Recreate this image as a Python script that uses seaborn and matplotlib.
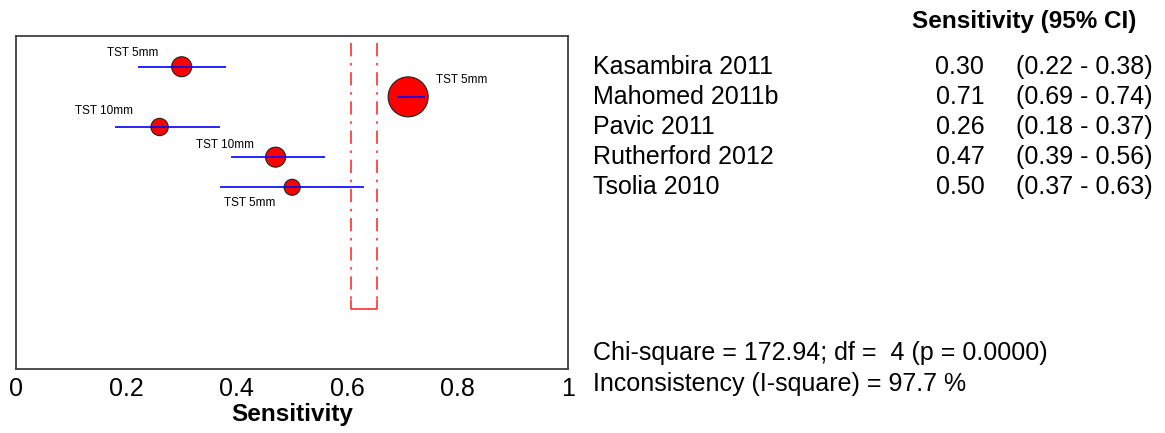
import numpy as np
import pandas as pd
import seaborn as sns
import matplotlib.pyplot as plt
from matplotlib.transforms import blended_transform_factory

# --- Data ---
studies = ['Kasambira 2011', 'Mahomed 2011b', 'Pavic 2011', 'Rutherford 2012', 'Tsolia 2010']
sens = [0.30, 0.71, 0.26, 0.47, 0.50]
ci_low = [0.22, 0.69, 0.18, 0.39, 0.37]
ci_high = [0.38, 0.74, 0.37, 0.56, 0.63]
cutoffs = ['TST 5mm', 'TST 5mm', 'TST 10mm', 'TST 10mm', 'TST 5mm']
weight = [20, 40, 17.3, 20, 16]  # relative study weight (marker diameter)
pooled_ci = [0.606, 0.654]
chi_text = 'Chi-square = 172.94; df =  4 (p = 0.0000)'
isq_text = 'Inconsistency (I-square) = 97.7 %'
xticks = [0, 0.2, 0.4, 0.6, 0.8, 1]
xtick_labels = ['0', '0.2', '0.4', '0.6', '0.8', '1']

# label offsets in pixels (dx, dy, ha)
label_offsets = [(-23, 14, 'right'), (28, 17, 'left'), (-27, 16, 'right'),
                 (-22, 12, 'right'), (-17, -16, 'right')]

sns.set_theme(style='white')
plt.rcParams['font.family'] = ['Liberation Sans', 'DejaVu Sans']
plt.rcParams['text.color'] = 'black'
plt.rcParams['axes.labelcolor'] = 'black'

df = pd.DataFrame({'study': studies, 'sens': sens, 'lo': ci_low, 'hi': ci_high,
                   'row': np.arange(1, len(studies) + 1), 'w': weight})
df['area'] = (df['w'] * 0.72) ** 2

fig = plt.figure(figsize=(11.65, 4.33), dpi=100)
ax = fig.add_axes([16 / 1165, 1 - 369 / 433, 552.3 / 1165, 333 / 433])

# CI lines
ax.hlines(df['row'], df['lo'], df['hi'], color='#0000ff', lw=1.2, zorder=3)
# study markers
sns.scatterplot(data=df, x='sens', y='row', s=df['area'], color='#ff0000',
                edgecolor='#202020', linewidth=0.8, ax=ax, zorder=2, legend=False)

# pooled CI lines with bracket
top, bottom = 0.22, 9.03
ax.vlines(pooled_ci, top, bottom - 0.3, color='#ff3030', lw=1.2,
          linestyles=[(0, (8, 4, 1.5, 4))], zorder=1)
ax.plot([pooled_ci[0], pooled_ci[0], pooled_ci[1], pooled_ci[1]],
        [bottom - 0.3, bottom, bottom, bottom - 0.3], color='#ff3030', lw=1.2, zorder=1)

# cutoff labels
for (dx, dy, ha), lab, x, y in zip(label_offsets, cutoffs, sens, df['row']):
    ax.annotate(lab, (x, y), xytext=(dx, dy), textcoords='offset pixels',
                ha=ha, va='center', fontsize=8.5, color='black')

ax.set_xlim(0, 1)
ax.set_ylim(11.03, -0.02)
ax.set_xticks(xticks)
ax.set_xticklabels(xtick_labels)
ax.set_yticks([])
ax.tick_params(axis='x', length=0, pad=6, labelsize=18, colors='black')
ax.set_xlabel('Sensitivity', fontsize=17.5, fontweight='bold', labelpad=1)
ax.set_ylabel('')
for sp in ax.spines.values():
    sp.set_visible(True)
    sp.set_color('#404040')
    sp.set_linewidth(1.3)

# right-hand table
tr = blended_transform_factory(fig.transFigure, ax.transData)
fig.text(1024 / 1165, 1 - 21.7 / 433, 'Sensitivity (95% CI)', ha='center', va='center',
         fontsize=17.5, fontweight='bold')
for name, s, lo, hi, r in zip(studies, sens, ci_low, ci_high, df['row']):
    fig.text(593 / 1165, r, name, transform=tr, ha='left', va='center', fontsize=18)
    fig.text(984.3 / 1165, r, f'{s:.2f}', transform=tr, ha='right', va='center', fontsize=18)
    fig.text(1015.7 / 1165, r, f'({lo:.2f} - {hi:.2f})', transform=tr, ha='left',
             va='center', fontsize=18)

fig.text(593 / 1165, 1 - 353 / 433, chi_text, ha='left', va='center', fontsize=18)
fig.text(593 / 1165, 1 - 384 / 433, isq_text, ha='left', va='center', fontsize=18)

fig.savefig('out.png', dpi=100)
